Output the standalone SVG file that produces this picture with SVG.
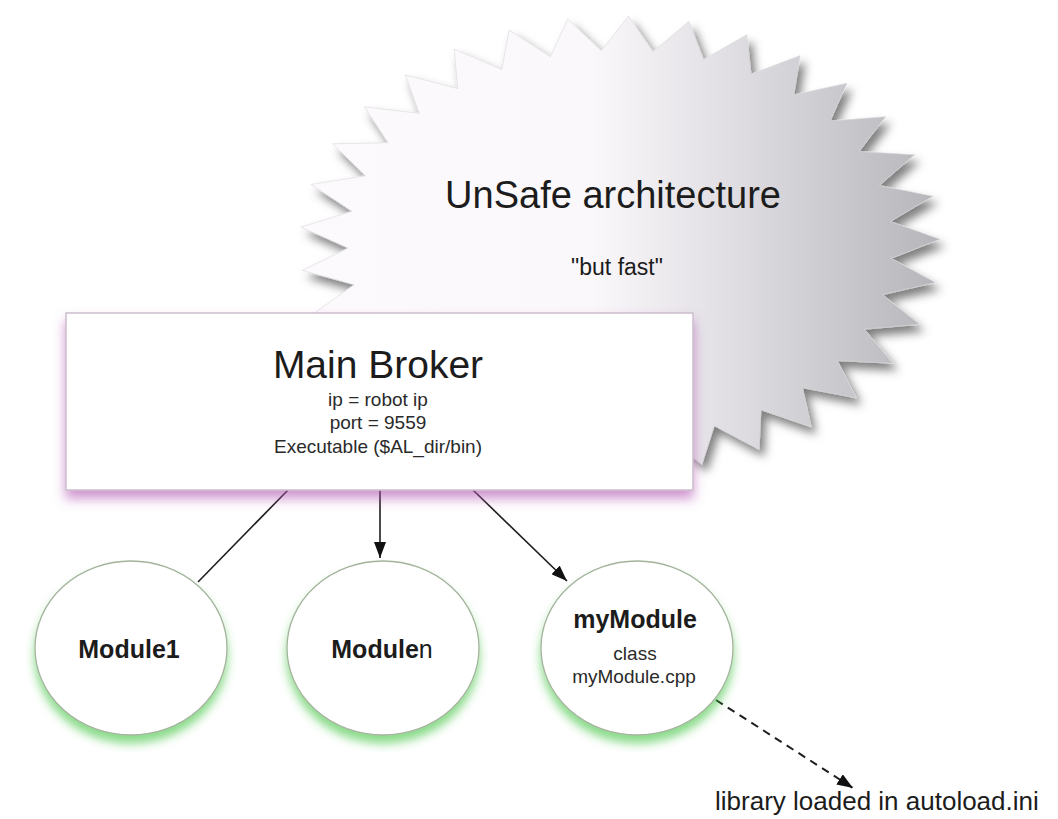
<svg xmlns="http://www.w3.org/2000/svg" width="1058" height="819" viewBox="0 0 1058 819">
  <defs>
    <style>
      .t { font-family: "Liberation Sans", Arial, sans-serif; fill: #1c1c1c; text-anchor: middle; }
      .small { font-family: "Liberation Sans", Arial, sans-serif; fill: #2a2a2a; text-anchor: middle; font-size: 19px; }
      .bold { font-weight: bold; font-size: 25px; }
      .module { fill: #ffffff; stroke: #a3b39c; stroke-width: 1.3; filter: url(#greenGlow); }
      .edge { stroke: #1e1e1e; stroke-width: 1.6; fill: none; }
      .dashed { stroke-dasharray: 8 6; stroke-width: 2; }
    </style>
    <linearGradient id="burstFill" gradientUnits="userSpaceOnUse" x1="300" y1="0" x2="945" y2="0">
      <stop offset="0" stop-color="#fdfafd"/>
      <stop offset="0.45" stop-color="#faf8fa"/>
      <stop offset="0.62" stop-color="#e6e4e8"/>
      <stop offset="1" stop-color="#b4b4b9"/>
    </linearGradient>
    <filter id="burstShadow" x="-10%" y="-10%" width="125%" height="125%">
      <feDropShadow dx="5" dy="7" stdDeviation="5" flood-color="#000000" flood-opacity="0.5"/>
    </filter>
    <filter id="pinkShadow" x="-5%" y="-10%" width="110%" height="130%">
      <feDropShadow dx="0" dy="8" stdDeviation="6" flood-color="#b050b0" flood-opacity="0.6"/>
    </filter>
    <filter id="greenGlow" x="-20%" y="-20%" width="140%" height="150%">
      <feDropShadow dx="0" dy="8" stdDeviation="5" flood-color="#3cc23c" flood-opacity="0.6"/>
    </filter>
    <marker id="arrow" viewBox="0 0 16 12" refX="16" refY="6" markerWidth="16" markerHeight="12" markerUnits="userSpaceOnUse" orient="auto">
      <path d="M0,0 L16,6 L0,12 Z" fill="#111111"/>
    </marker>
  </defs>

  <!-- starburst callout -->
  <g id="unsafe-burst">
    <polygon filter="url(#burstShadow)" fill="url(#burstFill)" stroke="#d8d6da" stroke-width="0.6" points="
      939.9,239.2 891.2,258.4 935.4,282.5 882.5,294.7 919.5,324.3 864.3,329.2
      892.8,363.2 837.3,360.6 856.2,397.8 802.4,387.7 811.1,426.9 760.9,409.8
      759.0,449.4 714.3,425.8 701.9,464.4 664.3,435.2 641.9,471.5 612.8,437.7
      581.1,470.3 561.4,433.3 521.7,461.0 512.2,421.9 465.8,443.8 466.9,404.2
      415.5,419.4 427.1,380.7 372.7,388.7 394.3,352.2 338.7,352.7 369.7,319.8
      314.9,312.8 354.1,284.7 302.2,270.4 348.1,248.1 300.9,227.1 351.9,211.3
      311.1,184.4 365.4,175.8 332.6,143.8 388.1,142.7 364.4,106.8 419.2,113.3
      405.4,74.9 457.6,88.5 454.2,49.0 501.8,69.4 509.0,30.1 550.4,56.7
      567.8,19.1 601.4,50.7 628.5,16.1 653.1,51.6 688.9,21.4 703.6,59.6
      746.8,34.7 751.0,74.2 800.1,55.6 793.8,94.9 846.9,83.2 830.2,121.0
      885.5,116.7 859.1,151.6 914.5,154.8 879.3,185.5 932.9,196.2 890.2,221.5"/>
    <text class="t" x="613" y="208" font-size="38">UnSafe architecture</text>
    <text class="t" x="617" y="275" font-size="23">"but fast"</text>
  </g>

  <!-- connectors -->
  <g id="connectors">
    <line class="edge" x1="288" y1="490" x2="198" y2="582"/>
    <line class="edge" x1="380" y1="490" x2="380" y2="558" marker-end="url(#arrow)"/>
    <line class="edge" x1="473" y1="490" x2="567" y2="581" marker-end="url(#arrow)"/>
    <line class="edge dashed" x1="716" y1="700" x2="853" y2="788" marker-end="url(#arrow)"/>
  </g>

  <!-- broker box -->
  <g id="main-broker">
    <rect x="66" y="313" width="627" height="177" fill="#ffffff" stroke="#cdbdcd" stroke-width="1.5" filter="url(#pinkShadow)"/>
    <text class="t" x="378" y="378" font-size="39">Main Broker</text>
    <text class="small" x="378" y="406">ip = robot ip</text>
    <text class="small" x="378" y="429">port = 9559</text>
    <text class="small" x="378" y="453" font-size="20">Executable ($AL_dir/bin)</text>
  </g>

  <!-- modules -->
  <g id="module1">
    <ellipse class="module" cx="131" cy="648" rx="96" ry="87"/>
    <text class="t bold" x="129" y="658">Module1</text>
  </g>
  <g id="modulen">
    <ellipse class="module" cx="383" cy="648" rx="96" ry="87"/>
    <text class="t bold" x="382" y="658">Module<tspan font-weight="normal">n</tspan></text>
  </g>
  <g id="mymodule">
    <ellipse class="module" cx="637" cy="648" rx="96" ry="87"/>
    <text class="t bold" x="635" y="628" font-size="26">myModule</text>
    <text class="small" x="635" y="660">class</text>
    <text class="small" x="634" y="683">myModule.cpp</text>
  </g>

  <!-- dashed link target -->
  <g id="autoload-label">
    <text class="t" x="715" y="810" font-size="26" style="text-anchor:start">library loaded in autoload.ini</text>
  </g>
</svg>
